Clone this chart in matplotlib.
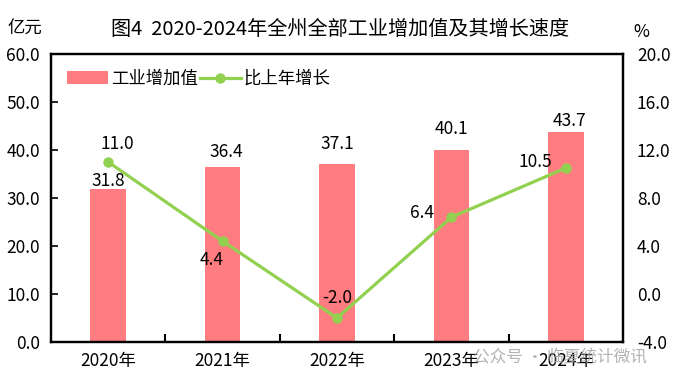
import matplotlib.pyplot as plt
import numpy as np

plt.rcParams['font.family'] = ['Noto Sans CJK SC', 'DejaVu Sans']
plt.rcParams['axes.unicode_minus'] = False

# 数据
years = ['2020年', '2021年', '2022年', '2023年', '2024年']
value_added = [31.8, 36.4, 37.1, 40.1, 43.7]   # 亿元
growth = [11.0, 4.4, -2.0, 6.4, 10.5]          # %

bar_color = '#FF7C80'
line_color = '#92D050'
fs = 12.5

fig = plt.figure(figsize=(6.74, 3.87), dpi=100)
ax = fig.add_axes([51 / 674, 45 / 387, 572 / 674, 288 / 387])
ax2 = ax.twinx()

x = np.arange(len(years))
ax.bar(x, value_added, width=0.31, color=bar_color, label='工业增加值', zorder=2)
ax2.plot(x, growth, color=line_color, lw=2.3, marker='o', markersize=6.5,
         label='比上年增长', zorder=3)

# 左轴
ax.set_xlim(-0.5, len(years) - 0.5)
ax.set_ylim(0, 60)
ax.set_yticks(np.arange(0, 61, 10))
ax.set_yticklabels([f'{v:.1f}' for v in np.arange(0, 61, 10)], fontsize=fs)
ax.tick_params(axis='y', direction='in', length=5, width=1.2, pad=8)

# x轴：标签在中间，刻度在分界处
ax.set_xticks(x)
ax.set_xticklabels(years, fontsize=fs)
ax.tick_params(axis='x', which='major', length=0, pad=7)
ax.set_xticks(np.arange(0.5, len(years) - 0.5, 1), minor=True)
ax.tick_params(axis='x', which='minor', direction='in', length=6, width=1.5)

# 右轴
ax2.set_ylim(-4, 20)
ax2.set_yticks(np.arange(-4, 21, 4))
ax2.set_yticklabels([f'{v:.1f}' for v in np.arange(-4, 21, 4)], fontsize=fs)
ax2.tick_params(axis='y', length=0, pad=10)

for a in (ax, ax2):
    for s in a.spines.values():
        s.set_linewidth(1.6)
        s.set_color('black')

# 数据标签（位置参照原图手动微调）
bar_offsets = [(0, 1.7), (0.03, 3.2), (0, 4.15), (0, 4.3), (0.03, 2.3)]
for xi, v, (dx, dy) in zip(x, value_added, bar_offsets):
    ax.text(xi + dx, v + dy, f'{v:.1f}', ha='center', va='center', fontsize=fs)

line_offsets = [(0.08, 1.5), (-0.1, -1.6), (0, 1.65), (-0.26, 0.35), (-0.27, 0.5)]
for xi, v, (dx, dy) in zip(x, growth, line_offsets):
    ax2.text(xi + dx, v + dy, f'{v:.1f}', ha='center', va='center', fontsize=fs)

# 图例
h1, l1 = ax.get_legend_handles_labels()
h2, l2 = ax2.get_legend_handles_labels()
ax.legend(h1 + h2, l1 + l2, loc='upper left', ncol=2, frameon=False,
          fontsize=fs, bbox_to_anchor=(0.0, 1.0), handlelength=2.4,
          handletextpad=0.15, columnspacing=0.1)

# 标题与单位
fig.text(0.505, 0.925, '图4  2020-2024年全州全部工业增加值及其增长速度',
         ha='center', va='center', fontsize=14.5)
fig.text(25 / 674, 0.925, '亿元', ha='center', va='center', fontsize=fs)
fig.text(641 / 674, 0.918, '%', ha='center', va='center', fontsize=fs)

# 水印
fig.text(560 / 674, 29 / 387, '公众号 · 临夏统计微讯', ha='center', va='center',
         fontsize=12, color='#a0a0a0', alpha=0.8)

fig.savefig('out.png', dpi=100)
